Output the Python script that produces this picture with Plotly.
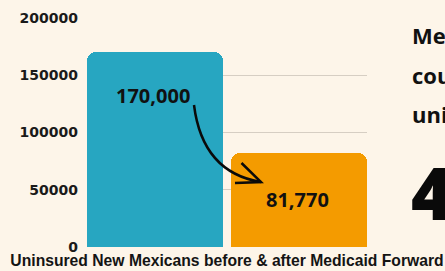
import plotly.graph_objects as go

# ---- data ----
categories = ["Before Medicaid Forward", "After Medicaid Forward"]
values = [170000, 81770]
value_labels = ["170,000", "81,770"]
bar_colors = ["#27a6c1", "#f49b00"]
y_tick_values = [0, 50000, 100000, 150000, 200000]
y_tick_labels = ["0", "50000", "100000", "150000", "200000"]
x_title = "Uninsured New Mexicans before & after Medicaid Forward"
side_lines = ["Medicaid", "could", "uninsured"]
side_number = "4"

# ---- layout constants (pixels) ----
W, H = 445, 271
L, R, T, B = 87, 78, 18, 24
BG = "#fdf5e9"

def to_paper(x, y):
    return ((x - L) / (W - L - R), (H - B - y) / (H - T - B))

fig = go.Figure(
    go.Bar(
        x=categories,
        y=values,
        width=0.944,
        marker=dict(color=bar_colors, cornerradius=9, line_width=0),
        hoverinfo="skip",
    )
)

# value labels inside bars
for cat, val, lab, dy in zip(categories, values, value_labels, [-43, -46]):
    fig.add_annotation(
        x=cat, y=val, xref="x", yref="y", text=lab, showarrow=False,
        yshift=dy, xshift=-2, yanchor="middle",
        font=dict(family="Open Sans", size=20, color="#111111", weight=700),
    )

# curved arrow from first label to second
p0 = to_paper(194, 105)
c1 = to_paper(199, 145)
c2 = to_paper(218, 175)
p3 = to_paper(261, 182)
path = "M {},{} C {},{} {},{} {},{}".format(*p0, *c1, *c2, *p3)
fig.add_shape(type="path", path=path, xref="paper", yref="paper",
              line=dict(color="#0a0a0a", width=2.5))
h1 = to_paper(241.5, 163)
h2 = to_paper(235, 183)
head = "M {},{} L {},{} L {},{}".format(*h1, *p3, *h2)
fig.add_shape(type="path", path=head, xref="paper", yref="paper",
              line=dict(color="#0a0a0a", width=2.5))

# partially visible side text
for txt, yc in zip(side_lines, [35, 75, 114]):
    _, py = to_paper(0, yc)
    px, _ = to_paper(410, 0)
    fig.add_annotation(
        x=px, y=py, xref="paper", yref="paper", text=txt, showarrow=False,
        xanchor="left", yanchor="middle",
        font=dict(family="Open Sans", size=22, color="#111111", weight=700),
    )
_, py = to_paper(0, 192)
px, _ = to_paper(409, 0)
fig.add_annotation(
    x=px, y=py, xref="paper", yref="paper", text=side_number, showarrow=False,
    xanchor="left", yanchor="middle",
    font=dict(family="Open Sans", size=72, color="#0a0a0a", weight=800),
)

fig.update_layout(
    width=W, height=H,
    margin=dict(l=L, r=R, t=T, b=B, pad=0),
    paper_bgcolor=BG, plot_bgcolor=BG,
    showlegend=False,
    bargap=0,
    xaxis=dict(
        range=[-0.472, 1.472], automargin=False,
        showticklabels=False, showgrid=False, zeroline=False,
        showline=False, ticks="",
        title=dict(text=x_title, standoff=8,
                   font=dict(family="Liberation Sans", size=15.7, color="#141414", weight=700)),
    ),
    yaxis=dict(
        range=[0, 200000], automargin=False,
        tickvals=y_tick_values, ticktext=y_tick_labels,
        showgrid=True, gridcolor="#d6cec3", gridwidth=1,
        zeroline=False, showline=False, ticks="",
        ticklabelstandoff=8,
        tickfont=dict(family="DejaVu Sans", size=14, color="#1a1a1a", weight=700),
    ),
)

fig.write_html(
    "out.html",
    config={"displayModeBar": False},
    post_script="document.body.style.margin='0';document.body.style.background='%s';" % BG,
)
